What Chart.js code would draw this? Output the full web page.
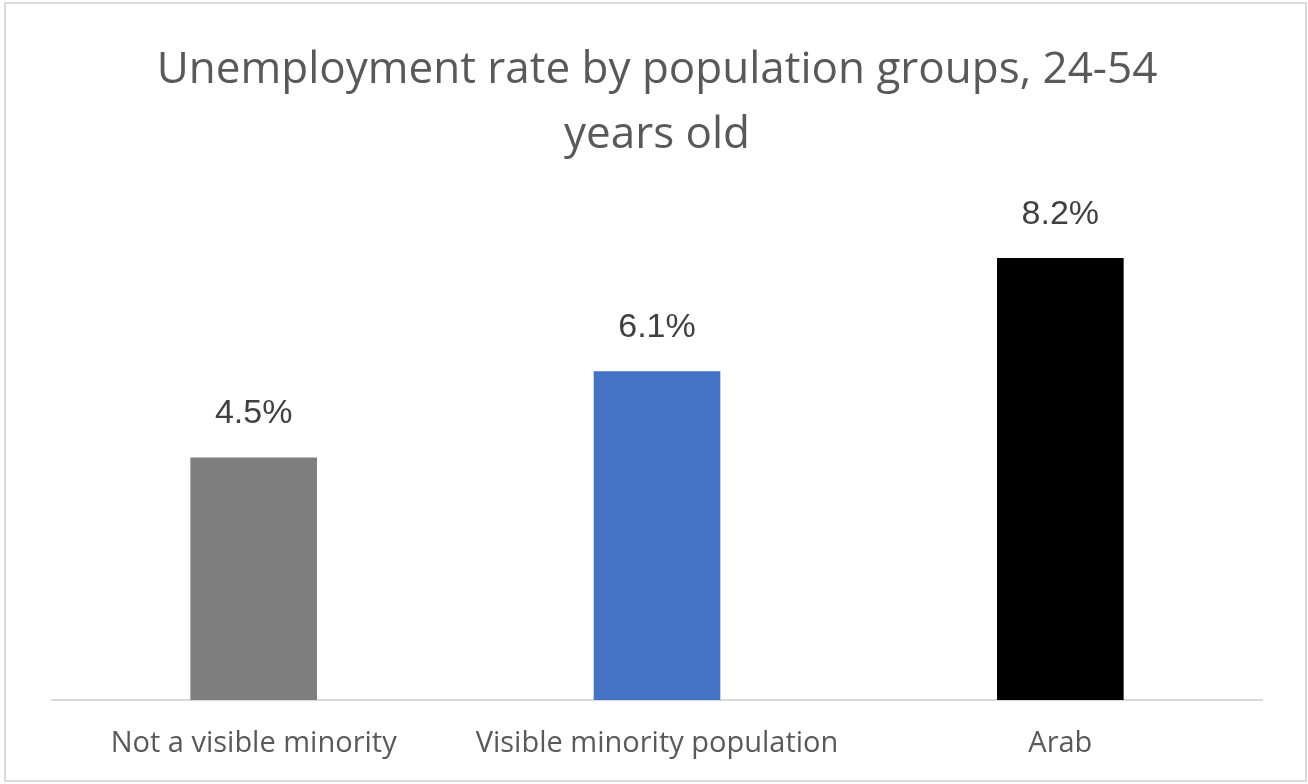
<!DOCTYPE html>
<html>
<head>
<meta charset="utf-8">
<title>Unemployment rate by population groups</title>
<script src="https://cdn.jsdelivr.net/npm/chart.js@4.4.1/dist/chart.umd.min.js"></script>
<style>
  html, body { margin: 0; padding: 0; background: #fff; }
  canvas { display: block; }
</style>
</head>
<body>
<canvas id="chart" width="1308" height="784"></canvas>
<script>
const categories = ['Not a visible minority', 'Visible minority population', 'Arab'];
const rates = [4.5, 6.1, 8.2];
const barColors = ['#7f7f7f', '#4472c4', '#000000'];

// outer frame like the exported picture
const framePlugin = {
  id: 'frame',
  beforeDraw(chart) {
    const ctx = chart.ctx;
    ctx.save();
    ctx.fillStyle = '#ffffff';
    ctx.fillRect(0, 0, chart.width, chart.height);
    ctx.strokeStyle = '#d9d9d9';
    ctx.lineWidth = 2;
    ctx.strokeRect(5, 3, chart.width - 7, chart.height - 6);
    ctx.restore();
  }
};

// value above each bar
const valueLabels = {
  id: 'valueLabels',
  afterDatasetsDraw(chart) {
    const ctx = chart.ctx;
    const meta = chart.getDatasetMeta(0);
    ctx.save();
    ctx.font = '34px "Liberation Sans", Arial, sans-serif';
    ctx.fillStyle = '#404040';
    ctx.textAlign = 'center';
    ctx.textBaseline = 'alphabetic';
    meta.data.forEach((bar, i) => {
      ctx.fillText(rates[i].toFixed(1) + '%', bar.x, bar.y - 34);
    });
    ctx.restore();
  }
};

new Chart(document.getElementById('chart'), {
  type: 'bar',
  data: {
    labels: categories,
    datasets: [{
      data: rates,
      backgroundColor: barColors,
      borderWidth: 0,
      barPercentage: 1,
      categoryPercentage: 0.314
    }]
  },
  options: {
    responsive: false,
    animation: false,
    layout: { padding: { left: 52, right: 46, top: 0, bottom: 0 } },
    plugins: {
      legend: { display: false },
      tooltip: { enabled: false },
      title: {
        display: true,
        text: ['Unemployment rate by population groups, 24-54', 'years old'],
        color: '#595959',
        font: { family: '"Open Sans", sans-serif', size: 44, weight: 'normal', lineHeight: 1.477 },
        padding: { top: 38, bottom: 47 }
      }
    },
    scales: {
      x: {
        grid: { display: false },
        border: { display: true, color: '#d9d9d9', width: 2 },
        ticks: {
          color: '#595959',
          padding: 18,
          font: { family: '"Open Sans", sans-serif', size: 29 }
        },
        afterFit(scale) { scale.height = 84; }
      },
      y: {
        display: false,
        min: 0,
        max: 9
      }
    }
  },
  plugins: [framePlugin, valueLabels]
});
</script>
</body>
</html>
